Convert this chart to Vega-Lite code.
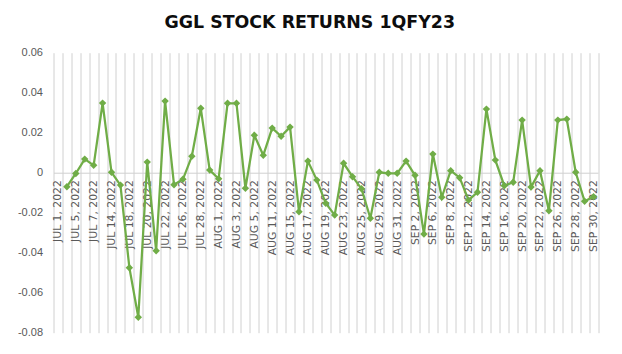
{
  "$schema": "https://vega.github.io/schema/vega-lite/v6.json",
  "autosize": "none",
  "width": 544.5,
  "height": 280,
  "padding": {"left": 53.5, "top": 52.7, "right": 24, "bottom": 21.3},
  "background": "white",
  "title": {"text": "GGL STOCK RETURNS 1QFY23", "font": "DejaVu Sans", "fontSize": 17.4, "fontWeight": "bold", "color": "#0d0d0d", "offset": 15, "dx": -16},
  "config": {"view": {"stroke": null}},
  "data": {"values": [
    {"date": "JUL 1, 2022", "ret": null},
    {"date": "JUL 4, 2022", "ret": -0.007},
    {"date": "JUL 5, 2022", "ret": -0.0004},
    {"date": "JUL 6, 2022", "ret": 0.0068},
    {"date": "JUL 7, 2022", "ret": 0.0037},
    {"date": "JUL 13, 2022", "ret": 0.0348},
    {"date": "JUL 14, 2022", "ret": 0.0002},
    {"date": "JUL 15, 2022", "ret": -0.0062},
    {"date": "JUL 18, 2022", "ret": -0.0475},
    {"date": "JUL 19, 2022", "ret": -0.0723},
    {"date": "JUL 20, 2022", "ret": 0.0053},
    {"date": "JUL 21, 2022", "ret": -0.039},
    {"date": "JUL 22, 2022", "ret": 0.0358},
    {"date": "JUL 25, 2022", "ret": -0.006},
    {"date": "JUL 26, 2022", "ret": -0.0033},
    {"date": "JUL 27, 2022", "ret": 0.0082},
    {"date": "JUL 28, 2022", "ret": 0.0322},
    {"date": "JUL 29, 2022", "ret": 0.0013},
    {"date": "AUG 1, 2022", "ret": -0.003},
    {"date": "AUG 2, 2022", "ret": 0.0347},
    {"date": "AUG 3, 2022", "ret": 0.0347},
    {"date": "AUG 4, 2022", "ret": -0.0078},
    {"date": "AUG 5, 2022", "ret": 0.0187},
    {"date": "AUG 10, 2022", "ret": 0.0087},
    {"date": "AUG 11, 2022", "ret": 0.0223},
    {"date": "AUG 12, 2022", "ret": 0.0182},
    {"date": "AUG 15, 2022", "ret": 0.0228},
    {"date": "AUG 16, 2022", "ret": -0.0195},
    {"date": "AUG 17, 2022", "ret": 0.0058},
    {"date": "AUG 18, 2022", "ret": -0.0037},
    {"date": "AUG 19, 2022", "ret": -0.0153},
    {"date": "AUG 22, 2022", "ret": -0.0212},
    {"date": "AUG 23, 2022", "ret": 0.0047},
    {"date": "AUG 24, 2022", "ret": -0.002},
    {"date": "AUG 25, 2022", "ret": -0.008},
    {"date": "AUG 26, 2022", "ret": -0.0228},
    {"date": "AUG 29, 2022", "ret": 0.0002},
    {"date": "AUG 30, 2022", "ret": -0.0003},
    {"date": "AUG 31, 2022", "ret": -0.0003},
    {"date": "SEP 1, 2022", "ret": 0.0058},
    {"date": "SEP 2, 2022", "ret": -0.0013},
    {"date": "SEP 5, 2022", "ret": -0.0307},
    {"date": "SEP 6, 2022", "ret": 0.0093},
    {"date": "SEP 7, 2022", "ret": -0.0123},
    {"date": "SEP 8, 2022", "ret": 0.001},
    {"date": "SEP 9, 2022", "ret": -0.0025},
    {"date": "SEP 12, 2022", "ret": -0.0137},
    {"date": "SEP 13, 2022", "ret": -0.0098},
    {"date": "SEP 14, 2022", "ret": 0.0318},
    {"date": "SEP 15, 2022", "ret": 0.0063},
    {"date": "SEP 16, 2022", "ret": -0.0065},
    {"date": "SEP 19, 2022", "ret": -0.0048},
    {"date": "SEP 20, 2022", "ret": 0.0263},
    {"date": "SEP 21, 2022", "ret": -0.0072},
    {"date": "SEP 22, 2022", "ret": 0.001},
    {"date": "SEP 23, 2022", "ret": -0.019},
    {"date": "SEP 26, 2022", "ret": 0.0263},
    {"date": "SEP 27, 2022", "ret": 0.0268},
    {"date": "SEP 28, 2022", "ret": 0.0002},
    {"date": "SEP 29, 2022", "ret": -0.0143},
    {"date": "SEP 30, 2022", "ret": -0.012}
  ]},
  "encoding": {
    "x": {
      "field": "date", "type": "ordinal", "sort": null,
      "scale": {"paddingInner": 0, "paddingOuter": 0},
      "axis": {
        "title": null, "offset": -160, "tickBand": "extent", "ticks": false,
        "grid": true, "gridColor": "#d0d0d0", "gridWidth": 1,
        "domainColor": "#d0d0d0", "domainWidth": 1,
        "labelAngle": -90, "labelPadding": 7, "labelOverlap": false,
        "labelFont": "DejaVu Sans", "labelFontSize": 10.8, "labelColor": "#595959",
        "labelExpr": "round(datum.index * 60) % 2 == 0 ? datum.label : ''"
      }
    },
    "y": {
      "field": "ret", "type": "quantitative",
      "scale": {"domain": [-0.08, 0.06], "nice": false, "zero": false},
      "axis": {
        "title": null, "grid": false, "domain": false, "ticks": false,
        "values": [-0.08, -0.06, -0.04, -0.02, 0, 0.02, 0.04, 0.06],
        "labelExpr": "toString(datum.value)",
        "labelFont": "Liberation Sans", "labelFontSize": 11, "labelColor": "#595959", "labelPadding": 11
      }
    }
  },
  "layer": [
    {"mark": {"type": "line", "color": "#70ad47", "strokeWidth": 2.25}},
    {"mark": {"type": "point", "shape": "diamond", "filled": true, "opacity": 1, "color": "#70ad47", "size": 55}}
  ]
}
